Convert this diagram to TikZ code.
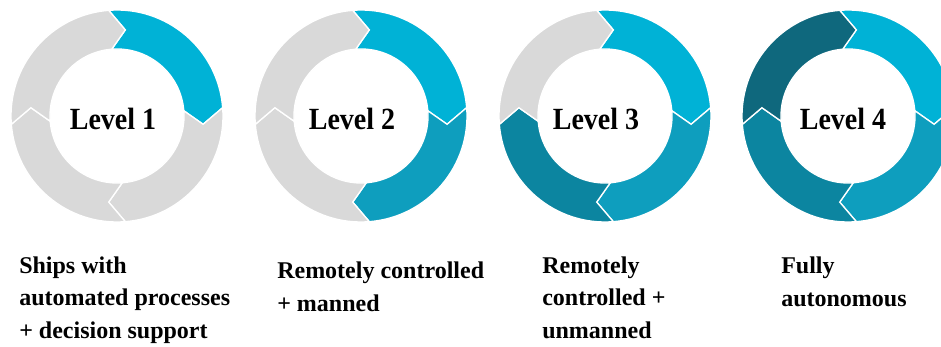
\documentclass[tikz,border=0pt]{standalone}
\usepackage{fontspec}
\setmainfont{Liberation Serif}
\definecolor{segA}{RGB}{0,178,214}
\definecolor{segB}{RGB}{14,158,190}
\definecolor{segC}{RGB}{12,133,160}
\definecolor{segD}{RGB}{15,104,125}
\definecolor{segG}{RGB}{217,217,217}
\tikzset{
  segline/.style={draw=white, line width=1pt, line join=miter},
  lvl/.style={font=\fontsize{21}{26}\selectfont\bfseries, inner sep=0pt, anchor=base, yscale=1.1},
  desc/.style={font=\fontsize{18}{24}\selectfont\bfseries, inner sep=0pt, align=left, anchor=base west},
}
\newcommand\ringseg[4]{%
  \begin{scope}[shift={(#1,#2)}]
    \pgfmathsetmacro\aS{#3}\pgfmathsetmacro\aE{#3-90}%
    \pgfmathsetmacro\aT{#3-100}\pgfmathsetmacro\aN{#3-10}%
    \filldraw[segline, fill=#4] (\aS:106) arc[start angle=\aS, end angle=\aE, radius=106]
      -- (\aT:86.5) -- (\aE:67) arc[start angle=\aE, end angle=\aS, radius=67]
      -- (\aN:86.5) -- cycle;
  \end{scope}}
\begin{document}
\begin{tikzpicture}[x=0.75pt, y=0.75pt]
\useasboundingbox (0,0) rectangle (941,346);
\clip (0,0) rectangle (941,346);
% ring 1
\ringseg{117}{230}{94.5}{segA}
\ringseg{117}{230}{4.5}{segG}
\ringseg{117}{230}{-85.5}{segG}
\ringseg{117}{230}{184.5}{segG}
% ring 2
\ringseg{361}{230}{94.5}{segA}
\ringseg{361}{230}{4.5}{segB}
\ringseg{361}{230}{-85.5}{segG}
\ringseg{361}{230}{184.5}{segG}
% ring 3
\ringseg{605}{230}{94.5}{segA}
\ringseg{605}{230}{4.5}{segB}
\ringseg{605}{230}{-85.5}{segC}
\ringseg{605}{230}{184.5}{segG}
% ring 4
\ringseg{848}{230}{94.5}{segA}
\ringseg{848}{230}{4.5}{segB}
\ringseg{848}{230}{-85.5}{segC}
\ringseg{848}{230}{184.5}{segD}
% labels
\node[lvl] (l1) at (113,216) {Level 1};
\node[lvl] (l2) at (352,216) {Level 2};
\node[lvl] (l3) at (596,216) {Level 3};
\node[lvl] (l4) at (843,216) {Level 4};
\node[desc] (d1) at (19,8) {Ships with\\automated processes\\+ decision support};
\node[desc] (d2) at (277,35) {Remotely controlled\\+ manned};
\node[desc] (d3) at (542,8) {Remotely\\controlled +\\unmanned};
\node[desc] (d4) at (781,40) {Fully\\autonomous};
\end{tikzpicture}
\end{document}
